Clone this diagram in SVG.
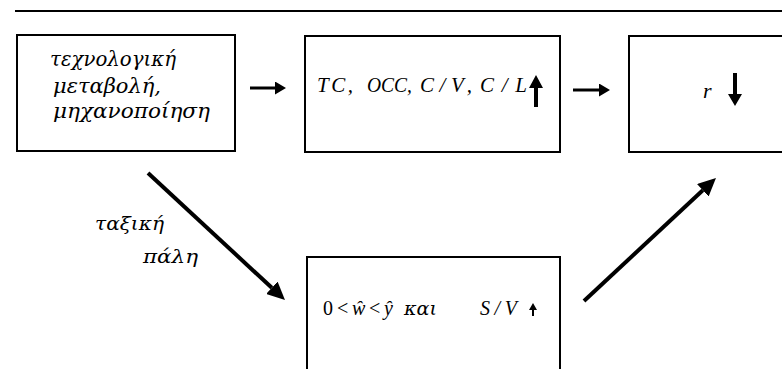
<svg xmlns="http://www.w3.org/2000/svg" width="782" height="369" viewBox="0 0 782 369">
<style>
.box{fill:none;stroke:#000;stroke-width:2}
.t{font-family:'Liberation Serif','DejaVu Serif',serif;font-style:italic;fill:#000}
.g{font-family:'DejaVu Serif','Liberation Serif',serif;font-style:italic;fill:#000}
.u{font-style:normal}
.ln{stroke:#000;fill:none}
</style>
<defs>
<marker id="hs" markerUnits="userSpaceOnUse" viewBox="0 0 11 13" refX="0" refY="6.5" markerWidth="11" markerHeight="13" orient="auto">
<path d="M0,0 L11,6.5 L0,13 z" fill="#000"/>
</marker>
<marker id="hd" markerUnits="userSpaceOnUse" viewBox="0 0 18 17" refX="0" refY="8.5" markerWidth="18" markerHeight="17" orient="auto">
<path d="M0,0 L18,8.5 L0,17 z" fill="#000"/>
</marker>
</defs>
<rect width="782" height="369" fill="#fff"/>
<line x1="15" y1="11" x2="782" y2="11" stroke="#000" stroke-width="2"/>

<g id="n1">
<rect class="box" x="17" y="35" width="218" height="116"/>
<text class="g" font-family="DejaVu Serif, serif" font-style="italic" font-size="20" x="50" y="66" textLength="126" lengthAdjust="spacingAndGlyphs">τεχνολογική</text>
<text class="g" font-family="DejaVu Serif, serif" font-style="italic" font-size="20" x="53" y="93" textLength="108" lengthAdjust="spacingAndGlyphs">μεταβολή,</text>
<text class="g" font-family="DejaVu Serif, serif" font-style="italic" font-size="20" x="53" y="118" textLength="157" lengthAdjust="spacingAndGlyphs">μηχανοποίηση</text>
</g>

<g id="n2">
<rect class="box" x="305" y="36" width="255" height="116"/>
<text class="t" font-family="Liberation Serif, serif" font-style="italic" font-size="21" x="317" y="92" textLength="36" lengthAdjust="spacing">TC,</text>
<text class="t" font-family="Liberation Serif, serif" font-style="italic" font-size="21" x="367" y="92" textLength="45" lengthAdjust="spacingAndGlyphs">OCC,</text>
<text class="t" font-family="Liberation Serif, serif" font-style="italic" font-size="21" x="420" y="92" textLength="52" lengthAdjust="spacing">C/V,</text>
<text class="t" font-family="Liberation Serif, serif" font-style="italic" font-size="21" x="480" y="92" textLength="47" lengthAdjust="spacing">C/L</text>
<path d="M534,86 L538,86 L538,107 L534,107 z M529,88 L536,75 L543,88 z" fill="#000"/>
</g>

<g id="n3">
<rect class="box" x="629" y="36" width="170" height="116"/>
<text class="t" font-family="Liberation Serif, serif" font-style="italic" font-size="22" x="703" y="98">r</text>
<path d="M733,73 L737,73 L737,96 L733,96 z M728,94 L742,94 L735,106 z" fill="#000"/>
</g>

<g id="n4">
<rect class="box" x="307" y="257" width="253" height="130"/>
<text class="t u" font-family="Liberation Serif, serif" font-size="20" x="323" y="315">0</text>
<text class="t u" font-family="Liberation Serif, serif" font-size="20" x="337" y="315">&lt;</text>
<text class="t" font-family="Liberation Serif, serif" font-style="italic" font-size="20" x="352" y="315">ŵ</text>
<text class="t u" font-family="Liberation Serif, serif" font-size="20" x="369" y="315">&lt;</text>
<text class="t" font-family="Liberation Serif, serif" font-style="italic" font-size="20" x="384" y="315">ŷ</text>
<text class="g" font-family="DejaVu Serif, serif" font-style="italic" font-size="18" x="404" y="315" textLength="33" lengthAdjust="spacingAndGlyphs">και</text>
<text class="t" font-family="Liberation Serif, serif" font-style="italic" font-size="20" x="480" y="315" textLength="37" lengthAdjust="spacing">S/V</text>
<path d="M532,308 L534,308 L534,316 L532,316 z M529,310 L533,303 L537,310 z" fill="#000"/>
</g>

<g id="labels">
<text class="g" font-family="DejaVu Serif, serif" font-style="italic" font-size="19" x="95" y="230" textLength="69" lengthAdjust="spacingAndGlyphs">ταξική</text>
<text class="g" font-family="DejaVu Serif, serif" font-style="italic" font-size="19" x="143" y="263" textLength="55" lengthAdjust="spacingAndGlyphs">πάλη</text>
</g>

<g id="connectors">
<line class="ln" x1="250" y1="88" x2="275" y2="88" stroke-width="3" marker-end="url(#hs)"/>
<line class="ln" x1="573" y1="90" x2="599" y2="90" stroke-width="3" marker-end="url(#hs)"/>
<line class="ln" x1="148" y1="173" x2="271.8" y2="287.8" stroke-width="4" marker-end="url(#hd)"/>
<line class="ln" x1="584" y1="301" x2="702.8" y2="190.3" stroke-width="4" marker-end="url(#hd)"/>
</g>
</svg>
